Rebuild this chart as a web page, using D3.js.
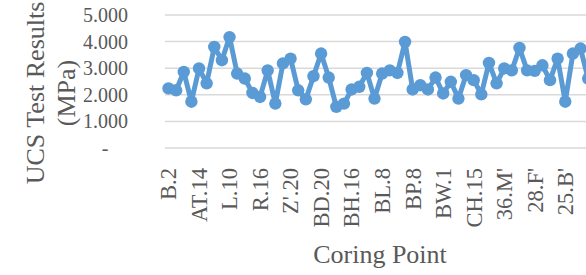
<!DOCTYPE html>
<html><head><meta charset="utf-8">
<script src="https://cdn.jsdelivr.net/npm/d3@7"></script>
<style>body{margin:0;background:#fff}svg{display:block}</style>
</head><body><svg id="c" width="586" height="275"></svg>
<script>
const values = [2.24,2.17,2.86,1.74,2.99,2.43,3.80,3.30,4.17,2.80,2.61,2.07,1.92,2.92,1.67,3.18,3.36,2.17,1.83,2.70,3.55,2.65,1.55,1.67,2.20,2.30,2.82,1.86,2.80,2.92,2.82,3.99,2.20,2.36,2.20,2.65,2.05,2.49,1.86,2.74,2.55,2.02,3.20,2.43,2.99,2.92,3.76,2.92,2.90,3.11,2.55,3.36,1.74,3.55,3.74,2.61];
const tickLabels = ["B.2","AT.14","L.10","R.16","Z'.20","BD.20","BH.16","BL.8","BP.8","BW.1","CH.15","36.M'","28.F'","25.B'"];
const tickEvery = 4;
const yTicks = [0,1,2,3,4,5];
const yTitle = ["UCS Test Results","(MPa)"];
const xTitle = "Coring Point";

const svg = d3.select("#c");
const step = 7.63, x0 = 168.5, left = 165, right = 586;
const x = d3.scalePoint().domain(d3.range(values.length)).range([x0, x0 + step*(values.length-1)]);
const y = d3.scaleLinear().domain([0,5]).range([148,15]);
const fmt = v => v === 0 ? "-" : d3.format(".3f")(v);
const grey = "#595959", blue = "#5B9BD5";

svg.append("g").selectAll("line").data(yTicks).join("line")
  .attr("x1", left).attr("x2", right).attr("y1", d=>y(d)).attr("y2", d=>y(d))
  .attr("stroke", "#d9d9d9").attr("stroke-width", 1.5);

svg.append("g").selectAll("text").data(yTicks).join("text")
  .attr("x", 128).attr("y", d=>y(d)).attr("dy","0.35em")
  .attr("text-anchor", d=> d===0 ? "middle" : "end")
  .attr("dx", d=> d===0 ? -23 : 0)
  .attr("font-family","'Liberation Serif', serif").attr("font-size",20).attr("fill",grey)
  .text(fmt);

svg.append("g").selectAll("text").data(tickLabels).join("text")
  .attr("transform",(d,i)=>`translate(${x(i*tickEvery)},168) rotate(-90)`)
  .attr("text-anchor","end").attr("dy","0.35em")
  .attr("font-family","'Liberation Serif', serif").attr("font-size",22.5).attr("fill",grey)
  .text(d=>d);

const line = d3.line().x((d,i)=>x(i)).y(d=>y(d));
svg.append("path").datum(values).attr("d", line)
  .attr("fill","none").attr("stroke",blue).attr("stroke-width",5).attr("stroke-linejoin","round");
svg.append("g").selectAll("circle").data(values).join("circle")
  .attr("cx",(d,i)=>x(i)).attr("cy",d=>y(d)).attr("r",6.2).attr("fill",blue);

svg.append("g").attr("transform","translate(44,93) rotate(-90)")
  .selectAll("text").data(yTitle).join("text")
  .attr("x",0).attr("y",(d,i)=>i*31).attr("text-anchor","middle")
  .attr("font-family","'Liberation Serif', serif").attr("font-size",26).attr("fill",grey)
  .text(d=>d);

svg.append("text").attr("x",380).attr("y",263).attr("text-anchor","middle")
  .attr("font-family","'Liberation Serif', serif").attr("font-size",26).attr("fill",grey)
  .text(xTitle);
</script></body></html>
